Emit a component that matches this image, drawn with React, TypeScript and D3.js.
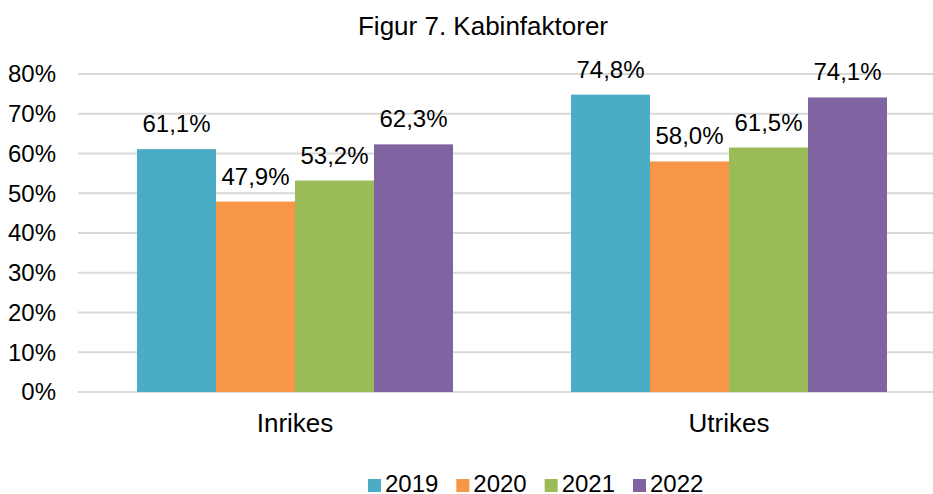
import React, { useEffect, useRef } from 'react';
import * as d3 from 'd3';

const categories = ['Inrikes', 'Utrikes'];
const years = ['2019', '2020', '2021', '2022'];
const v2019 = [61.1, 74.8];
const v2020 = [47.9, 58.0];
const v2021 = [53.2, 61.5];
const v2022 = [62.3, 74.1];
const yTicks = [0, 10, 20, 30, 40, 50, 60, 70, 80];
const colors = ['#4BACC6', '#F79646', '#9BBB59', '#8064A2'];

const W = 933;
const H = 494;
const font = '"Liberation Sans", Arial, sans-serif';

export default function App() {
  const ref = useRef<SVGSVGElement>(null);

  useEffect(() => {
    const svg = d3.select(ref.current);
    svg.selectAll('*').remove();

    const series = [v2019, v2020, v2021, v2022];
    const left = 78, right = 946, top = 74, bottom = 392;

    const x0 = d3.scaleBand().domain(categories).range([left, right]).padding(0);
    const x1 = d3.scaleBand().domain(years).range([59, x0.bandwidth() - 59]).padding(0);
    const y = d3.scaleLinear().domain([0, 80]).range([bottom, top]);

    // title
    svg.append('text')
      .attr('x', 483).attr('y', 35)
      .attr('text-anchor', 'middle')
      .attr('font-family', font).attr('font-size', 26)
      .text('Figur 7. Kabinfaktorer');

    // grid + y labels
    const g = svg.append('g');
    yTicks.forEach(t => {
      g.append('line')
        .attr('x1', left).attr('x2', right)
        .attr('y1', y(t)).attr('y2', y(t))
        .attr('stroke', '#D9D9D9').attr('stroke-width', 2);
      g.append('text')
        .attr('x', 56).attr('y', y(t))
        .attr('dy', '0.35em')
        .attr('text-anchor', 'end')
        .attr('font-family', font).attr('font-size', 24)
        .text(t + '%');
    });

    // bars
    categories.forEach((c, ci) => {
      years.forEach((yr, si) => {
        const v = series[si][ci];
        const bx = (x0(c) as number) + (x1(yr) as number);
        svg.append('rect')
          .attr('x', bx).attr('y', y(v))
          .attr('width', x1.bandwidth()).attr('height', y(0) - y(v))
          .attr('fill', colors[si]);
        svg.append('text')
          .attr('x', bx + x1.bandwidth() / 2).attr('y', y(v) - 17)
          .attr('text-anchor', 'middle')
          .attr('font-family', font).attr('font-size', 24)
          .text(d3.format('.1f')(v).replace('.', ',') + '%');
      });
      svg.append('text')
        .attr('x', (x0(c) as number) + x0.bandwidth() / 2).attr('y', 432)
        .attr('text-anchor', 'middle')
        .attr('font-family', font).attr('font-size', 26)
        .text(c);
    });

    // legend
    const lx = d3.scalePoint().domain(years).range([368, 633]);
    years.forEach((yr, i) => {
      const px = lx(yr) as number;
      svg.append('rect')
        .attr('x', px).attr('y', 479)
        .attr('width', 13).attr('height', 13)
        .attr('fill', colors[i]);
      svg.append('text')
        .attr('x', px + 17).attr('y', 492)
        .attr('font-family', font).attr('font-size', 24)
        .text(yr);
    });
  }, []);

  return (
    <svg ref={ref} width={W} height={H} style={{ position: 'absolute', left: 0, top: 0, background: '#fff' }} />
  );
}
